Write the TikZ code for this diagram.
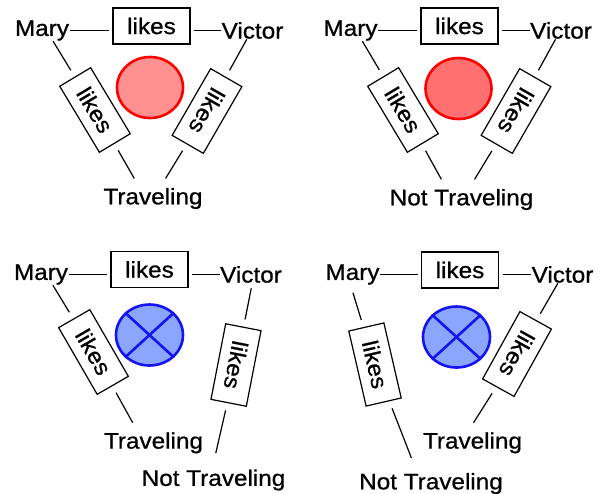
\documentclass[tikz,border=0pt]{standalone}
\usepackage{fontspec}
\setmainfont{Liberation Sans}[FakeStretch=1.08,FakeBold=0.8]
\usetikzlibrary{shapes.geometric}
\definecolor{pinkfill}{RGB}{255,145,145}
\definecolor{rosefill}{RGB}{255,112,112}
\definecolor{bluefill}{RGB}{138,166,255}
\definecolor{blueline}{RGB}{20,20,240}
\begin{document}
\begin{tikzpicture}[x=1pt,y=-1pt,line width=1.2pt,
   word/.style={inner sep=0pt,font=\fontsize{22.5}{26}\selectfont},
   goal/.style={word,inner ysep=9pt},
   relbox/.style={draw,word,minimum width=77pt,minimum height=36pt,outer sep=4pt},
   tilted/.style={relbox,outer sep=8pt,rotate=#1},
   yes/.style={ellipse,draw=red,line width=2.6pt,minimum width=66pt,minimum height=61pt,inner sep=0pt},
   no/.style={ellipse,draw=blueline,fill=bluefill,line width=2.6pt,minimum width=67pt,minimum height=61pt,inner sep=0pt}]
   \useasboundingbox (0,0) rectangle (601,493);
   % top left
   \node[word] (mary1) at (42,30.5) {Mary};
   \node[word] (victor1) at (252.5,30.5) {Victor};
   \node[relbox] (lk1) at (151.5,26) {likes};
   \node[yes,fill=pinkfill] (fac1) at (150,87.5) {};
   \node[tilted=-59] (lkl1) at (95,110) {likes};
   \node[tilted=-120] (lkr1) at (207,111) {likes};
   \node[goal] (trav1) at (153,198.5) {Traveling};
   \draw (mary1.east) -- (mary1.east -| lk1.west);
   \draw (lk1.east |- victor1.west) -- (victor1.west);
   \draw (mary1.-44) -- (lkl1) -- (trav1.133);
   \draw (victor1.-123) -- (lkr1) -- (trav1.58);
   % top right
   \node[word] (mary2) at (350.5,30.5) {Mary};
   \node[word] (victor2) at (561,30.5) {Victor};
   \node[relbox] (lk2) at (459.5,26) {likes};
   \node[yes,fill=rosefill] (fac2) at (458.5,88.5) {};
   \node[tilted=-59] (lkl2) at (403,110) {likes};
   \node[tilted=-120] (lkr2) at (516,111) {likes};
   \node[goal] (ntr2) at (461.5,199.5) {Not Traveling};
   \draw (mary2.east) -- (mary2.east -| lk2.west);
   \draw (lk2.east |- victor2.west) -- (victor2.west);
   \draw (mary2.-42) -- (lkl2) -- (ntr2.135);
   \draw (victor2.-122) -- (lkr2) -- (ntr2.57);
   % bottom left
   \node[word] (mary3) at (41,274.5) {Mary};
   \node[word] (victor3) at (251,274.5) {Victor};
   \node[relbox] (lk3) at (149.5,269.5) {likes};
   \node[no] (fac3) at (149.5,335) {};
   \draw[blueline,line width=2.6pt] (fac3.north west) -- (fac3.south east)
      (fac3.north east) -- (fac3.south west);
   \node[tilted=-60] (lkl3) at (93.5,352) {likes};
   \node[tilted=-101] (lkr3) at (236,365) {likes};
   \node[goal] (trav3) at (153.5,442.8) {Traveling};
   \node[goal] (ntr3) at (213.5,480) {Not Traveling};
   \draw (mary3.east) -- (mary3.east -| lk3.west);
   \draw (lk3.east |- victor3.west) -- (victor3.west);
   \draw (mary3.-42) -- (lkl3) -- (trav3.136);
   \draw[shorten <=5pt] (victor3.-82) -- (lkr3);
   \draw[shorten >=7pt] (lkr3) -- (ntr3.88);
   % bottom right
   \node[word] (mary4) at (352.5,274.5) {Mary};
   \node[word] (victor4) at (562.5,274.5) {Victor};
   \node[relbox] (lk4) at (460,270) {likes};
   \node[no] (fac4) at (456.5,337) {};
   \draw[blueline,line width=2.6pt] (fac4.north west) -- (fac4.south east)
      (fac4.north east) -- (fac4.south west);
   \node[tilted=-77] (lkl4) at (375,364.5) {likes};
   \node[tilted=-119] (lkr4) at (517,354) {likes};
   \node[goal] (trav4) at (472.5,442.8) {Traveling};
   \node[goal] (ntr4) at (431,483.5) {Not Traveling};
   \draw (mary4.east) -- (mary4.east -| lk4.west);
   \draw (lk4.east |- victor4.west) -- (victor4.west);
   \draw[shorten <=8pt] (mary4.-100) -- (lkl4);
   \draw[shorten >=6pt] (lkl4) -- (ntr4.131);
   \draw (victor4.-118) -- (lkr4) -- (trav4.87);
\end{tikzpicture}
\end{document}
